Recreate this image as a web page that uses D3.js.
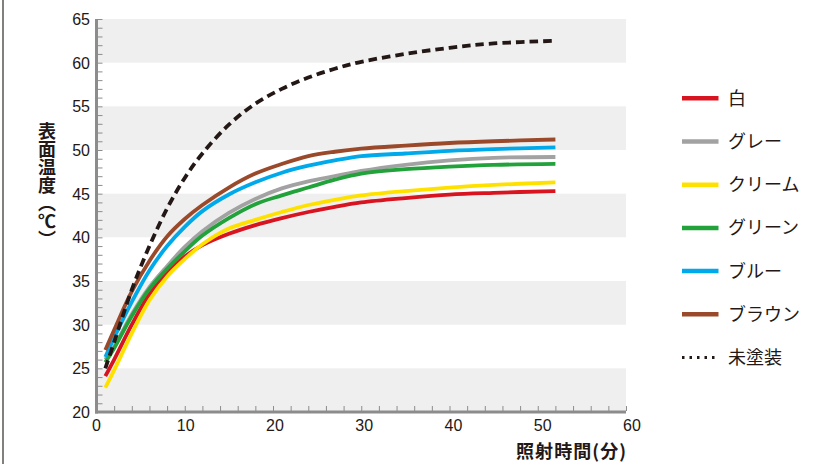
<!doctype html>
<html lang="ja">
<head>
  <meta charset="utf-8">
  <title>表面温度</title>
  <style>
    body { margin: 0; background: #fff; }
    svg { display: block; }
    text { font-family: "Noto Sans CJK JP", "Noto Sans", sans-serif; fill: #231815; }
    .num { font-family: "Liberation Sans", Arial, sans-serif; font-size: 16px; }
  </style>
</head>
<body>
<svg id="svg" width="830" height="464"></svg>
<script src="https://cdn.jsdelivr.net/npm/d3@7"></script>
<script>
  // 照射時間（分）
  var minutes  = [1, 2, 4, 6, 8, 10, 12, 15, 18, 21, 24, 27, 30, 35, 40, 45, 52];

  // 表面温度（℃）per colour
  var shiro    = [24.1, 26.0, 30.0, 33.5, 36.0, 37.8, 39.1, 40.4, 41.4, 42.2, 42.9, 43.5, 44.0, 44.5, 44.9, 45.1, 45.3];
  var gray     = [26.0, 27.5, 31.2, 34.3, 36.7, 38.9, 40.7, 42.8, 44.4, 45.6, 46.4, 47.0, 47.6, 48.3, 48.8, 49.1, 49.2];
  var cream    = [22.8, 24.8, 29.0, 32.8, 35.5, 37.5, 39.2, 41.0, 42.0, 42.9, 43.7, 44.3, 44.8, 45.3, 45.7, 46.0, 46.3];
  var green    = [25.7, 27.3, 31.0, 34.1, 36.4, 38.4, 40.2, 42.2, 43.8, 44.8, 45.7, 46.6, 47.3, 47.8, 48.1, 48.3, 48.4];
  var blue     = [26.3, 28.5, 32.6, 36.2, 39.0, 41.2, 43.0, 44.9, 46.3, 47.4, 48.2, 48.8, 49.3, 49.6, 49.9, 50.1, 50.3];
  var brown    = [27.1, 29.4, 33.8, 37.3, 40.1, 42.1, 43.7, 45.7, 47.3, 48.4, 49.3, 49.8, 50.15, 50.5, 50.8, 51.0, 51.2];
  var mitoso   = [25.0, 28.0, 34.0, 39.0, 43.3, 46.8, 49.6, 52.9, 55.3, 57.0, 58.3, 59.3, 60.1, 61.0, 61.7, 62.2, 62.5];

  var names    = ["白", "グレー", "クリーム", "グリーン", "ブルー", "ブラウン", "未塗装"];
  var xTicks   = [0, 10, 20, 30, 40, 50, 60];
  var yTicks   = [20, 25, 30, 35, 40, 45, 50, 55, 60, 65];
  var bandFrom = [20, 30, 40, 50, 60];

  var series = [
    {name: names[0], values: shiro,  color: "#d7141f"},
    {name: names[1], values: gray,   color: "#a2a2a2"},
    {name: names[2], values: cream,  color: "#ffe100"},
    {name: names[3], values: green,  color: "#22a23a"},
    {name: names[4], values: blue,   color: "#00a9e9"},
    {name: names[5], values: brown,  color: "#9a4a2b"},
    {name: names[6], values: mitoso, color: "#231815", dash: true}
  ];

  var svg = d3.select("#svg");

  var x = d3.scaleLinear().domain([0, 60]).range([96.5, 626]);
  var y = d3.scaleLinear().domain([20, 65]).range([412, 19]);

  // left frame line
  svg.append("line")
    .attr("x1", 3).attr("x2", 3).attr("y1", 0).attr("y2", 464)
    .attr("stroke", "#5a5552").attr("stroke-width", 1.5);

  // grey bands
  svg.selectAll("rect.band")
    .data(bandFrom)
    .enter().append("rect")
    .attr("class", "band")
    .attr("x", x(0))
    .attr("width", x(60) - x(0))
    .attr("y", function(d) { return y(d + 5); })
    .attr("height", function(d) { return y(d) - y(d + 5); })
    .attr("fill", "#efefef");

  // minor ticks
  svg.append("g")
    .attr("transform", "translate(" + (x(0) + 1) + ",0)")
    .call(d3.axisRight(y).ticks(45).tickSize(5).tickFormat(""))
    .call(function(g) {
      g.select(".domain").remove();
      g.selectAll("line").attr("stroke", "#8c8c8c").attr("stroke-width", 1);
    });

  svg.append("g")
    .attr("transform", "translate(0," + (y(20) - 1) + ")")
    .call(d3.axisTop(x).ticks(30).tickSize(5).tickFormat(""))
    .call(function(g) {
      g.select(".domain").remove();
      g.selectAll("line").attr("stroke", "#8c8c8c").attr("stroke-width", 1);
    });

  // axis lines
  svg.append("line")
    .attr("x1", x(0)).attr("x2", x(0)).attr("y1", y(65)).attr("y2", y(20) + 1.5)
    .attr("stroke", "#8c8c8c").attr("stroke-width", 3);
  svg.append("line")
    .attr("x1", x(0) - 1.5).attr("x2", x(60)).attr("y1", y(20)).attr("y2", y(20))
    .attr("stroke", "#8c8c8c").attr("stroke-width", 3);

  // tick labels
  svg.selectAll("text.ylab")
    .data(yTicks)
    .enter().append("text")
    .attr("class", "num")
    .attr("x", 90)
    .attr("y", function(d) { return y(d) + 6; })
    .attr("text-anchor", "end")
    .text(function(d) { return d; });

  svg.selectAll("text.xlab")
    .data(xTicks)
    .enter().append("text")
    .attr("class", "num")
    .attr("x", function(d) { return x(d) + d * 0.1; })
    .attr("y", 431)
    .attr("text-anchor", "middle")
    .text(function(d) { return d; });

  // axis titles
  svg.append("text")
    .attr("x", 47)
    .attr("y", 122)
    .attr("font-size", 18)
    .attr("font-weight", "bold")
    .style("writing-mode", "vertical-rl")
    .text("表面温度（℃）");

  svg.append("text")
    .attr("x", 626)
    .attr("y", 458)
    .attr("font-size", 18)
    .attr("font-weight", "bold")
    .attr("text-anchor", "end")
    .attr("textLength", 110)
    .attr("lengthAdjust", "spacing")
    .text("照射時間(分)");

  // curves
  var line = d3.line()
    .x(function(d, i) { return x(minutes[i]); })
    .y(function(d) { return y(d); })
    .curve(d3.curveCatmullRom.alpha(0.5));

  svg.selectAll("path.curve")
    .data(series)
    .enter().append("path")
    .attr("class", "curve")
    .attr("fill", "none")
    .attr("stroke", function(d) { return d.color; })
    .attr("stroke-width", 3.8)
    .attr("stroke-dasharray", function(d) { return d.dash ? "8.5,5" : null; })
    .attr("d", function(d) { return line(d.values); });

  // legend
  var legend = svg.selectAll("g.legend")
    .data(series)
    .enter().append("g")
    .attr("class", "legend")
    .attr("transform", function(d, i) { return "translate(682," + (98.3 + i * 43.2) + ")"; });

  legend.append("line")
    .attr("x1", 0).attr("x2", 36.5)
    .attr("stroke", function(d) { return d.color; })
    .attr("stroke-width", function(d) { return d.dash ? 3 : 4.5; })
    .attr("stroke-dasharray", function(d) { return d.dash ? "2.5,5" : null; });

  legend.append("text")
    .attr("x", 46)
    .attr("y", 6.5)
    .attr("font-size", 18)
    .text(function(d) { return d.name; });
</script>
</body>
</html>
